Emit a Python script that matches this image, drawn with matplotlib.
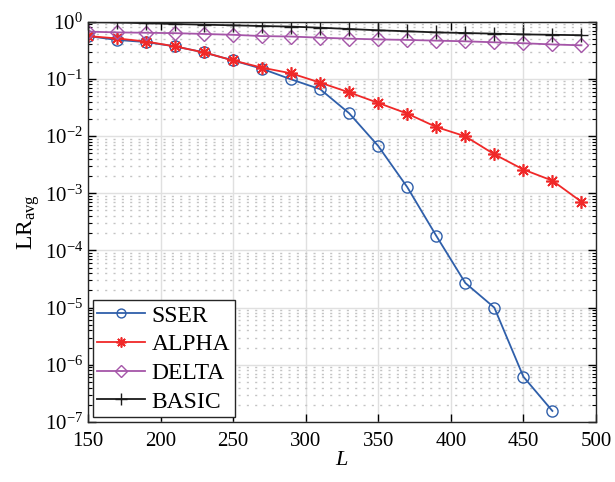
import numpy as np
import matplotlib
matplotlib.use('Agg')
import matplotlib.pyplot as plt

plt.rcParams['font.family'] = ['Liberation Serif', 'DejaVu Serif']
plt.rcParams['mathtext.fontset'] = 'custom'
plt.rcParams['mathtext.rm'] = 'Liberation Serif'
plt.rcParams['mathtext.it'] = 'Liberation Serif:italic'

# Data
L = [150, 170, 190, 210, 230, 250, 270, 290, 310, 330, 350, 370, 390, 410, 430, 450, 470, 490]
sser = [0.56, 0.48, 0.44, 0.37, 0.29, 0.21, 0.15, 0.098, 0.066, 0.025, 0.0067,
        1.28e-3, 1.8e-4, 2.7e-5, 1.0e-5, 6.2e-7, 1.56e-7]
alpha = [0.56, 0.51, 0.45, 0.37, 0.29, 0.21, 0.157, 0.125, 0.086, 0.058, 0.038,
         0.0247, 0.0144, 0.0099, 0.0048, 0.0026, 0.00166, 0.00071]
delta = [0.67, 0.65, 0.64, 0.63, 0.61, 0.59, 0.56, 0.55, 0.525, 0.505, 0.49,
         0.48, 0.466, 0.454, 0.436, 0.42, 0.40, 0.386]
basic = [0.98, 0.97, 0.94, 0.91, 0.886, 0.865, 0.84, 0.82, 0.785, 0.745, 0.707,
         0.68, 0.65, 0.634, 0.617, 0.60, 0.59, 0.58]

fig = plt.figure(figsize=(6.15, 4.82), dpi=100)
ax = fig.add_axes([0.143, 0.1245, 0.826, 0.8305])

ax.semilogy(L[:len(sser)], sser, '-o', color='#2f5faa', lw=1.3, ms=8,
            mfc='none', mew=1.0, label='SSER')
ax.semilogy(L, alpha, '-', marker=(8, 2, 0), color='#f02828', lw=1.3, ms=9,
            mew=1.2, label='ALPHA')
ax.semilogy(L, delta, '-D', color='#a555a8', lw=1.3, ms=7.5,
            mfc='none', mew=1.0, label='DELTA')
ax.semilogy(L, basic, '-+', color='#1a1a1a', lw=1.3, ms=10,
            mew=1.0, label='BASIC')

ax.set_xlim(150, 500)
ax.set_ylim(1e-7, 1)
ax.set_xticks([150, 200, 250, 300, 350, 400, 450, 500])
ax.set_yticks([10.0**k for k in range(-7, 1)])

ax.grid(True, which='major', color='#e0e0e0', lw=1.0, ls='-')
ax.grid(True, which='minor', axis='y', color='#c4c4c4', lw=1.0, ls=(0, (1.5, 4.5)))
ax.set_axisbelow(True)

ax.tick_params(which='both', direction='in', top=True, right=True, labelsize=15)
ax.tick_params(which='major', length=6, width=1.0)
ax.tick_params(which='minor', length=3, width=0.8)
ax.tick_params(axis='x', pad=7)
for s in ax.spines.values():
    s.set_linewidth(1.0)
    s.set_color('#262626')

ax.set_xlabel('$L$', fontsize=16, labelpad=0)
ax.set_ylabel(r'$\mathrm{LR}_{\mathrm{avg}}$', fontsize=17, labelpad=2)

leg = ax.legend(loc='lower left', fontsize=17, frameon=True, fancybox=False,
                borderpad=0.2, labelspacing=0.3, handlelength=2.0,
                handletextpad=0.3, borderaxespad=0.2, markerscale=0.8)
leg.get_frame().set_edgecolor('#262626')
leg.get_frame().set_linewidth(1.0)
leg.get_frame().set_alpha(1.0)

fig.savefig('out.png', dpi=100)
